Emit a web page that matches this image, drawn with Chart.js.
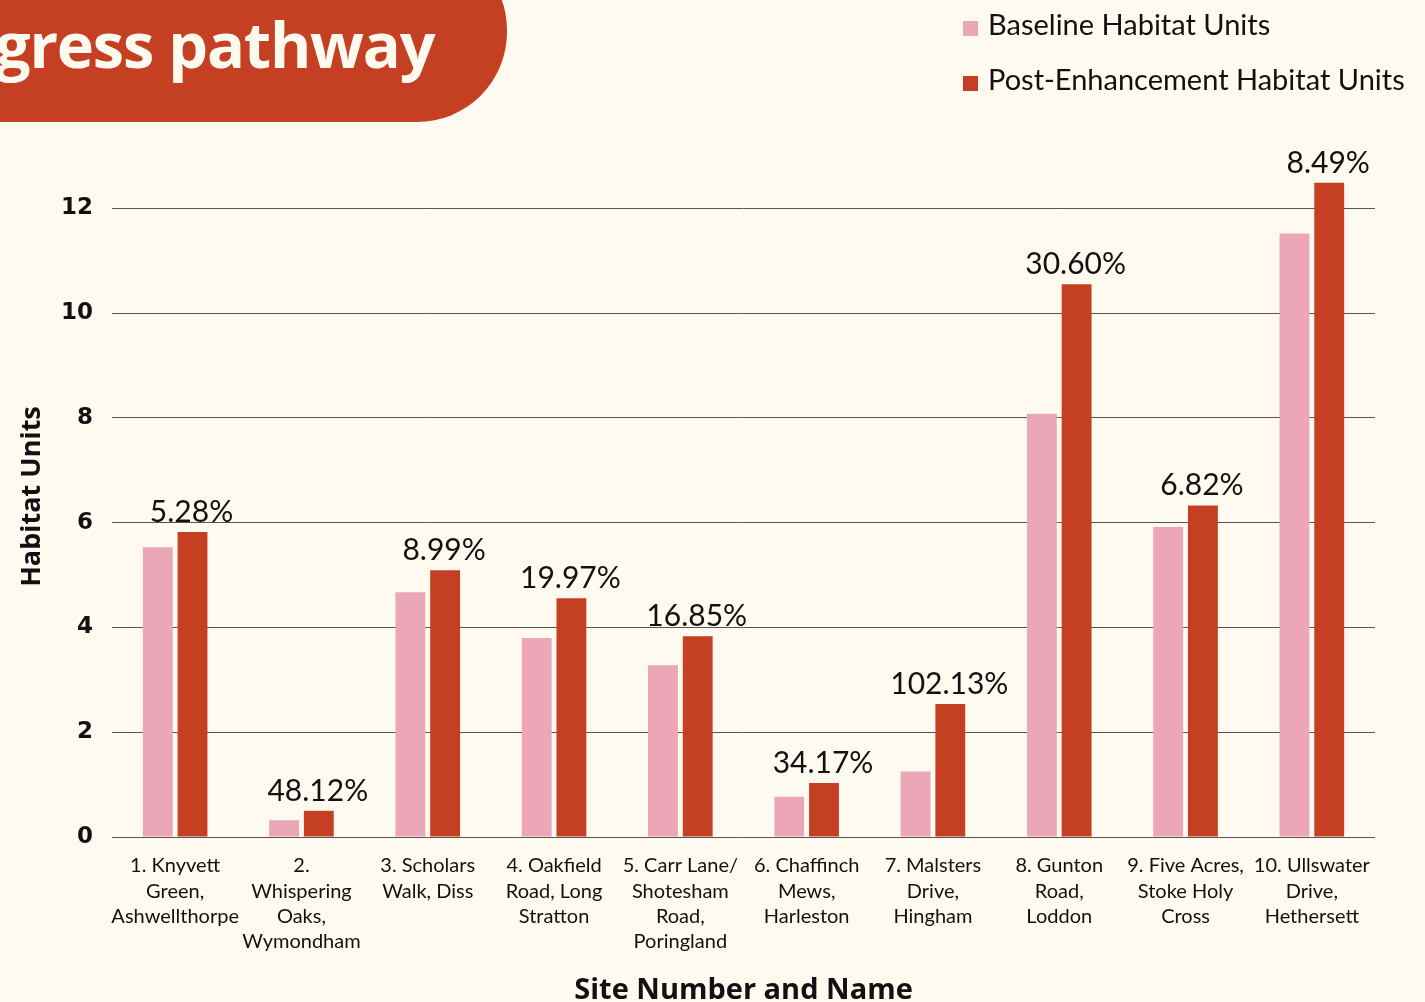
<!DOCTYPE html>
<html>
<head>
<meta charset="utf-8">
<script src="https://cdn.jsdelivr.net/npm/chart.js@4/dist/chart.umd.min.js"></script>
<style>
  html, body { margin: 0; padding: 0; background: #FFFAEF; }
  #wrap { position: relative; width: 1425px; height: 1002px; overflow: hidden; background: #FFFAEF; }
  #banner {
    position: absolute; left: -60px; top: -60px; width: 567px; height: 182px;
    background: #C54023; border-bottom-right-radius: 90px; border-top-right-radius: 90px;
  }
  #banner span {
    position: absolute; left: 55px; top: 61px; color: #FFFAEF;
    font-family: "Open Sans", sans-serif; font-weight: 700; font-size: 63px; letter-spacing: -1.2px;
    white-space: nowrap;
  }
  #legend { position: absolute; left: 963px; top: 6px; font-family: Lato, sans-serif; font-size: 29px; color: #111; }
  #legend div { height: 55px; line-height: 36px; white-space: nowrap; }
  #legend i { display: inline-block; width: 15px; height: 15px; margin-right: 10px; vertical-align: -1px; }
  canvas { position: absolute; left: 0; top: 0; }
</style>
</head>
<body>
<div id="wrap">
  <canvas id="myChart" width="1425" height="1002"></canvas>
  <div id="banner"><span>gress pathway</span></div>
  <div id="legend"></div>
</div>
<script>
let sites = [
  ["1. Knyvett", "Green,", "Ashwellthorpe"],
  ["2.", "Whispering", "Oaks,", "Wymondham"],
  ["3. Scholars", "Walk, Diss"],
  ["4. Oakfield", "Road, Long", "Stratton"],
  ["5. Carr Lane/", "Shotesham", "Road,", "Poringland"],
  ["6. Chaffinch", "Mews,", "Harleston"],
  ["7. Malsters", "Drive,", "Hingham"],
  ["8. Gunton", "Road,", "Loddon"],
  ["9. Five Acres,", "Stoke Holy", "Cross"],
  ["10. Ullswater", "Drive,", "Hethersett"]
];
let baseline = [5.53, 0.32, 4.67, 3.80, 3.28, 0.77, 1.25, 8.08, 5.92, 11.52];
let postEnh  = [5.82, 0.50, 5.09, 4.56, 3.83, 1.03, 2.54, 10.55, 6.33, 12.49];
let pctLabels = ["5.28%", "48.12%", "8.99%", "19.97%", "16.85%", "34.17%", "102.13%", "30.60%", "6.82%", "8.49%"];
let yTicks = [0, 2, 4, 6, 8, 10, 12];

let pink = "#EBA6B7";
let red = "#C54023";

// legend in html
let legend = document.getElementById("legend");
[["Baseline Habitat Units", pink], ["Post-Enhancement Habitat Units", red]].forEach(function (it) {
  let d = document.createElement("div");
  d.innerHTML = '<i style="background:' + it[1] + '"></i>' + it[0];
  legend.appendChild(d);
});

let pctPlugin = {
  id: "pct",
  afterDatasetsDraw(chart) {
    let ctx = chart.ctx;
    let meta = chart.getDatasetMeta(1);
    ctx.save();
    ctx.font = "30px Lato";
    ctx.fillStyle = "#111";
    ctx.textAlign = "center";
    ctx.textBaseline = "alphabetic";
    meta.data.forEach(function (bar, i) {
      ctx.fillText(pctLabels[i], bar.x - 1, bar.y - 10);
    });
    ctx.restore();
  }
};

let mychart = document.getElementById("myChart").getContext("2d");
let myChart = new Chart(mychart, {
  type: "bar",
  data: {
    labels: sites,
    datasets: [
      { label: "Baseline Habitat Units", data: baseline, backgroundColor: pink },
      { label: "Post-Enhancement Habitat Units", data: postEnh, backgroundColor: red }
    ]
  },
  options: {
    responsive: false,
    animation: false,
    layout: { padding: { top: 156, right: 50, left: 16, bottom: 0 } },
    datasets: { bar: { categoryPercentage: 0.55, barPercentage: 0.86 } },
    plugins: { legend: { display: false }, tooltip: { enabled: false } },
    scales: {
      x: {
        grid: { display: false },
        border: { display: false },
        ticks: {
          color: "#111", font: { family: "Lato", size: 20, lineHeight: 1.27 }, maxRotation: 0, autoSkip: false, padding: 8
        },
        title: {
          display: true, text: "Site Number and Name", color: "#111",
          font: { family: "Open Sans", weight: "bold", size: 29 }, padding: { top: 16, bottom: -6 }
        },
        afterFit(scale) { scale.height = 165; }
      },
      y: {
        min: 0, max: 13,
        afterBuildTicks(scale) { scale.ticks = yTicks.map(function (v) { return { value: v }; }); },
        grid: { color: "#555", lineWidth: 1, drawTicks: false },
        border: { display: false },
        ticks: { color: "#111", font: { family: "DejaVu Sans", weight: "bold", size: 23 }, padding: 19 },
        title: {
          display: true, text: "Habitat Units", color: "#111",
          font: { family: "Open Sans", weight: "bold", size: 27 }, padding: { top: 0, bottom: 0 }
        },
        afterFit(scale) { scale.width = 96; }
      }
    }
  },
  plugins: [pctPlugin]
});
</script>
</body>
</html>
